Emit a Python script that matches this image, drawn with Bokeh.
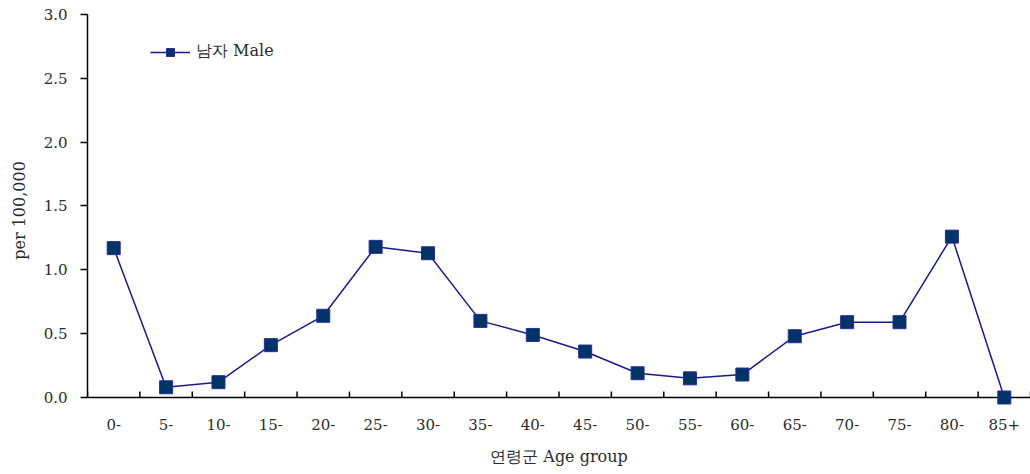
from bokeh.plotting import figure
from bokeh.models import Range1d, FixedTicker, Legend, LegendItem, Span
from bokeh.embed import file_html
from bokeh.resources import INLINE
import numpy as np

age_groups = ["0-", "5-", "10-", "15-", "20-", "25-", "30-", "35-", "40-", "45-",
              "50-", "55-", "60-", "65-", "70-", "75-", "80-", "85+"]
male_rate = [1.17, 0.08, 0.12, 0.41, 0.64, 1.18, 1.13, 0.60, 0.49, 0.36,
             0.19, 0.15, 0.18, 0.48, 0.59, 0.59, 1.26, 0.0]
y_ticks = [0.0, 0.5, 1.0, 1.5, 2.0, 2.5, 3.0]
y_tick_labels = ["0.0", "0.5", "1.0", "1.5", "2.0", "2.5", "3.0"]

FONT = "DejaVu Serif"
TXT = "#2b2b2b"
Y_PAD = 0.0705  # room below zero so that markers at 0 are not cut

x = np.arange(len(age_groups)) + 0.5
boundaries = np.arange(len(age_groups) + 1)

p = figure(width=1030, height=474, output_backend="svg", toolbar_location=None,
           x_range=Range1d(0, len(age_groups)), y_range=Range1d(-Y_PAD, 3.0),
           min_border_left=87, min_border_right=0, min_border_top=14, min_border_bottom=68)
p.outline_line_color = None
p.grid.grid_line_color = None
p.background_fill_color = "white"

# x axis line at zero, with inward tick marks between the age groups
p.add_layout(Span(location=0, dimension="width", line_color="black", line_width=1.5,
                  level="annotation"))
p.ray(x=boundaries, y=0, length=6, length_units="screen", angle=np.pi / 2,
      line_color="black", line_width=1.5)

line = p.line(x, male_rate, line_color="#1a1a8c", line_width=1.5, level="overlay")
pts = p.scatter(x, male_rate, marker="square", size=13, fill_color="#003366",
                line_color="#2a2aa0", line_width=1, level="overlay")

xa = p.xaxis[0]
xa.ticker = FixedTicker(ticks=list(x), minor_ticks=[])
xa.major_label_overrides = {float(v): lab for v, lab in zip(x, age_groups)}
xa.major_tick_line_color = None
xa.minor_tick_line_color = None
xa.axis_line_color = None
xa.major_label_standoff = 6
xa.major_label_text_font = FONT
xa.major_label_text_font_size = "15px"
xa.major_label_text_color = TXT
xa.axis_label = "연령군 Age group"
xa.axis_label_text_font = FONT
xa.axis_label_text_font_size = "16px"
xa.axis_label_text_font_style = "normal"
xa.axis_label_text_color = TXT
xa.axis_label_standoff = 14

ya = p.yaxis[0]
ya.bounds = (0, 3.0)
ya.ticker = FixedTicker(ticks=y_ticks, minor_ticks=[])
ya.major_label_overrides = {float(v): lab for v, lab in zip(y_ticks, y_tick_labels)}
ya.major_tick_in = 0
ya.major_tick_out = 7
ya.major_tick_line_width = 1.5
ya.axis_line_width = 1.5
ya.major_label_standoff = 13
ya.major_label_text_font = FONT
ya.major_label_text_font_size = "15px"
ya.major_label_text_color = TXT
ya.axis_label = "per 100,000"
ya.axis_label_text_font = FONT
ya.axis_label_text_font_size = "16px"
ya.axis_label_text_font_style = "normal"
ya.axis_label_text_color = TXT
ya.axis_label_standoff = 12

legend = Legend(items=[LegendItem(label="남자 Male", renderers=[line, pts])],
                location=(63, 344), margin=0, padding=0,
                glyph_width=40, glyph_height=20, label_height=20, label_standoff=6,
                label_text_font=FONT, label_text_font_size="16px",
                label_text_color=TXT,
                border_line_color=None, background_fill_alpha=0)
p.add_layout(legend)

open("out.html", "w").write(file_html(p, INLINE))
